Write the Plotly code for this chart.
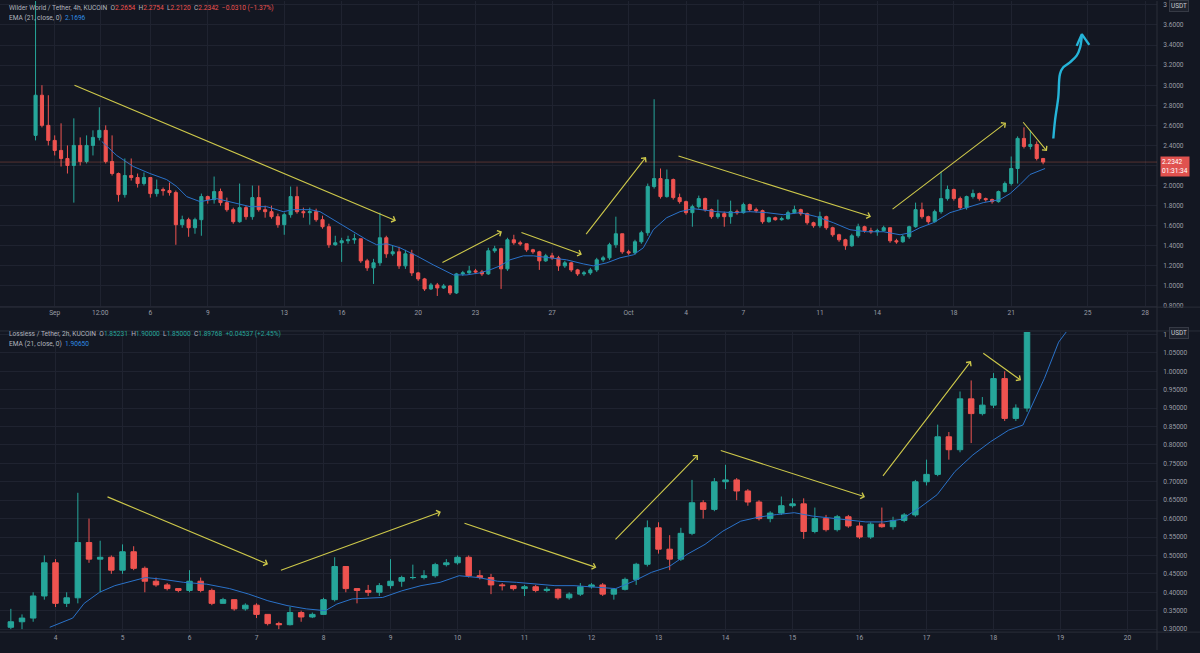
import pandas as pd
import plotly.graph_objects as go

# ===================== DATA =====================
# --- Top pane: Wilder World / Tether (KUCOIN), candles every 8h ---
top_start = "2021-08-31 00:00"
top_open0 = 2.50
top_close = [2.90, 2.60, 2.45, 2.35, 2.27, 2.20, 2.40, 2.24, 2.40, 2.48,
             2.55, 2.24, 2.12, 1.91, 2.10, 2.08, 2.02, 2.08, 1.92, 1.96,
             1.95, 1.93, 1.61, 1.66, 1.58, 1.66, 1.89, 1.86, 1.94, 1.83,
             1.76, 1.64, 1.78, 1.69, 1.88, 1.76, 1.74, 1.69, 1.61, 1.71,
             1.89, 1.74, 1.73, 1.74, 1.66, 1.59, 1.41, 1.43, 1.45, 1.46,
             1.47, 1.25, 1.18, 1.23, 1.48, 1.32, 1.34, 1.20, 1.32, 1.13,
             1.07, 0.97, 1.01, 0.98, 1.00, 0.93, 1.12, 1.13, 1.15, 1.14,
             1.12, 1.35, 1.37, 1.17, 1.46, 1.43, 1.42, 1.36, 1.34, 1.25,
             1.30, 1.28, 1.20, 1.23, 1.16, 1.12, 1.13, 1.16, 1.26, 1.28,
             1.41, 1.52, 1.34, 1.33, 1.44, 1.53, 1.99, 2.07, 1.89, 2.06,
             1.88, 1.84, 1.73, 1.79, 1.87, 1.76, 1.69, 1.72, 1.69, 1.74,
             1.73, 1.81, 1.76, 1.75, 1.64, 1.68, 1.66, 1.67, 1.73, 1.76,
             1.72, 1.63, 1.60, 1.69, 1.58, 1.51, 1.46, 1.40, 1.50, 1.59,
             1.55, 1.54, 1.55, 1.58, 1.45, 1.44, 1.49, 1.59, 1.76, 1.69,
             1.64, 1.74, 1.87, 1.96, 1.87, 1.78, 1.89, 1.92, 1.87, 1.86,
             1.84, 1.94, 2.02, 2.17, 2.47, 2.39, 2.41, 2.27, 2.2342]
top_high = [3.95, 3.00, 2.90, 2.50, 2.62, 2.40, 2.67, 2.48, 2.50, 2.55,
            2.78, 2.60, 2.50, 2.13, 2.27, 2.27, 2.12, 2.13, 2.08, 2.06,
            1.98, 2.03, 1.95, 1.70, 1.68, 1.68, 1.92, 1.90, 2.09, 1.97,
            1.88, 1.78, 2.02, 1.80, 2.00, 2.00, 1.80, 1.80, 1.72, 1.73,
            1.99, 1.99, 1.78, 1.78, 1.77, 1.70, 1.62, 1.50, 1.48, 1.50,
            1.52, 1.47, 1.27, 1.27, 1.73, 1.50, 1.40, 1.39, 1.36, 1.36,
            1.14, 1.08, 1.03, 1.03, 1.02, 1.01, 1.13, 1.15, 1.20, 1.17,
            1.16, 1.38, 1.40, 1.38, 1.48, 1.51, 1.45, 1.42, 1.37, 1.35,
            1.32, 1.33, 1.30, 1.25, 1.24, 1.17, 1.15, 1.18, 1.28, 1.30,
            1.43, 1.69, 1.52, 1.36, 1.46, 1.55, 2.02, 2.86, 2.17, 2.16,
            2.07, 1.92, 1.85, 1.81, 1.90, 1.88, 1.77, 1.86, 1.74, 1.85,
            1.76, 1.83, 1.82, 1.78, 1.76, 1.69, 1.69, 1.69, 1.75, 1.80,
            1.77, 1.73, 1.64, 1.74, 1.70, 1.59, 1.52, 1.47, 1.52, 1.62,
            1.60, 1.58, 1.57, 1.60, 1.58, 1.47, 1.51, 1.60, 1.83, 1.83,
            1.70, 1.76, 2.14, 2.00, 1.97, 1.89, 1.90, 1.96, 1.93, 1.88,
            1.87, 1.95, 2.04, 2.29, 2.49, 2.58, 2.55, 2.44, 2.2754]
top_low = [2.45, 2.58, 2.40, 2.30, 2.19, 2.12, 1.83, 2.20, 2.22, 2.30,
           2.45, 2.22, 2.10, 1.84, 1.88, 2.05, 1.98, 2.00, 1.88, 1.89,
           1.90, 1.90, 1.41, 1.58, 1.49, 1.52, 1.50, 1.82, 1.82, 1.80,
           1.74, 1.62, 1.63, 1.66, 1.66, 1.74, 1.68, 1.67, 1.58, 1.51,
           1.68, 1.72, 1.68, 1.61, 1.64, 1.57, 1.38, 1.40, 1.24, 1.42,
           1.42, 1.23, 1.15, 1.02, 1.20, 1.28, 1.30, 1.17, 1.17, 1.10,
           1.05, 0.95, 0.96, 0.90, 0.97, 0.91, 0.92, 1.10, 1.12, 1.12,
           1.10, 1.11, 1.33, 0.97, 1.15, 1.41, 1.40, 1.34, 1.32, 1.16,
           1.24, 1.26, 1.15, 1.18, 1.14, 1.10, 1.10, 1.11, 1.14, 1.24,
           1.26, 1.38, 1.32, 1.31, 1.31, 1.42, 1.50, 1.97, 1.87, 1.88,
           1.86, 1.82, 1.71, 1.59, 1.77, 1.74, 1.67, 1.67, 1.59, 1.62,
           1.71, 1.72, 1.74, 1.73, 1.62, 1.63, 1.65, 1.65, 1.66, 1.72,
           1.70, 1.61, 1.58, 1.58, 1.56, 1.49, 1.44, 1.36, 1.39, 1.48,
           1.53, 1.52, 1.50, 1.54, 1.43, 1.42, 1.43, 1.47, 1.58, 1.67,
           1.62, 1.63, 1.72, 1.85, 1.85, 1.76, 1.76, 1.87, 1.85, 1.84,
           1.82, 1.83, 1.93, 2.00, 2.02, 2.37, 2.36, 2.25, 2.2120]

# EMA(21) of the top pane (days after 2021-09-01)
top_ema_day = [2.46, 3.24, 4.11, 4.98, 5.85, 6.38, 6.90, 7.60, 8.47, 9.34,
               10.21, 11.08, 11.95, 12.47, 13.35, 13.87, 14.56, 15.44, 16.31, 16.83,
               17.36, 18.05, 18.92, 19.79, 20.84, 21.54, 22.23, 22.75, 23.28, 23.80,
               24.50, 25.02, 25.89, 26.76, 27.63, 28.15, 28.86, 29.55, 30.25, 30.77,
               31.29, 31.99, 32.69, 33.38, 34.61, 35.47, 36.35, 37.22, 38.09, 38.96,
               39.83, 40.70, 41.57, 42.45, 43.32, 44.19, 44.71, 45.23, 45.93, 46.80,
               47.67, 48.54, 49.41, 49.94, 50.46, 50.98, 51.77]
top_ema_val = [2.44, 2.30, 2.19, 2.12, 2.06, 1.99, 1.89, 1.84, 1.87, 1.83,
               1.79, 1.79, 1.74, 1.76, 1.76, 1.74, 1.66, 1.56, 1.46, 1.41,
               1.42, 1.38, 1.30, 1.21, 1.11, 1.11, 1.13, 1.16, 1.20, 1.26,
               1.30, 1.30, 1.28, 1.26, 1.22, 1.20, 1.23, 1.28, 1.31, 1.38,
               1.56, 1.68, 1.74, 1.77, 1.74, 1.73, 1.74, 1.73, 1.71, 1.73,
               1.69, 1.63, 1.56, 1.54, 1.54, 1.51, 1.53, 1.58, 1.63, 1.73,
               1.78, 1.83, 1.86, 1.92, 2.01, 2.11, 2.17]

top_tick_day = [0, 2.375, 5, 8, 12, 15, 19, 22, 26, 30, 33, 36, 40, 43, 47, 50, 54, 57]
top_tick_text = ["Sep", "12:00", "6", "9", "13", "16", "20", "23", "27",
                 "Oct", "4", "7", "11", "14", "18", "21", "25", "28"]
top_price_ticks = [0.8, 1.0, 1.2, 1.4, 1.6, 1.8, 2.0, 2.2, 2.4, 2.6, 2.8, 3.0, 3.2, 3.4, 3.6, 3.8]
# 2.2 is hidden behind the last-price label, 3.8 behind the "USDT" tag
top_price_text = ["0.8000", "1.0000", "1.2000", "1.4000", "1.6000", "1.8000", "2.0000", "",
                  "2.4000", "2.6000", "2.8000", "3.0000", "3.2000", "3.4000", "3.6000", "3"]
top_last = 2.2342

# --- Bottom pane: Lossless / Tether (KUCOIN), candles every 4h ---
bot_start = "2021-10-03 08:00"
bot_open0 = 0.305
bot_close = [0.320, 0.330, 0.390, 0.480, 0.370, 0.385, 0.535, 0.490, 0.495, 0.460,
             0.510, 0.465, 0.430, 0.420, 0.410, 0.405, 0.430, 0.405, 0.370, 0.380,
             0.355, 0.365, 0.340, 0.315, 0.312, 0.345, 0.333, 0.340, 0.380, 0.470,
             0.410, 0.405, 0.400, 0.418, 0.430, 0.440, 0.440, 0.445, 0.475, 0.480,
             0.495, 0.445, 0.440, 0.420, 0.418, 0.410, 0.415, 0.405, 0.408, 0.385,
             0.395, 0.415, 0.420, 0.395, 0.408, 0.435, 0.476, 0.575, 0.517, 0.490,
             0.560, 0.643, 0.625, 0.700, 0.705, 0.675, 0.645, 0.600, 0.615, 0.635,
             0.640, 0.565, 0.600, 0.570, 0.605, 0.580, 0.550, 0.585, 0.578, 0.595,
             0.610, 0.700, 0.720, 0.822, 0.787, 0.925, 0.885, 0.908, 0.980, 0.872,
             0.900, 1.350]
bot_high = [0.355, 0.340, 0.400, 0.500, 0.490, 0.400, 0.670, 0.600, 0.540, 0.500,
            0.530, 0.525, 0.470, 0.440, 0.425, 0.410, 0.460, 0.440, 0.410, 0.385,
            0.380, 0.370, 0.370, 0.340, 0.320, 0.360, 0.350, 0.345, 0.385, 0.495,
            0.470, 0.410, 0.420, 0.425, 0.490, 0.445, 0.475, 0.460, 0.480, 0.490,
            0.500, 0.500, 0.460, 0.450, 0.425, 0.420, 0.420, 0.420, 0.415, 0.410,
            0.400, 0.425, 0.425, 0.425, 0.410, 0.440, 0.480, 0.595, 0.590, 0.555,
            0.575, 0.705, 0.650, 0.710, 0.746, 0.710, 0.680, 0.650, 0.620, 0.660,
            0.655, 0.655, 0.630, 0.610, 0.610, 0.610, 0.590, 0.590, 0.630, 0.605,
            0.615, 0.705, 0.760, 0.855, 0.835, 0.945, 0.975, 0.930, 0.995, 1.000,
            0.910, 1.450]
bot_low = [0.300, 0.300, 0.320, 0.380, 0.360, 0.360, 0.370, 0.480, 0.400, 0.450,
           0.450, 0.460, 0.400, 0.415, 0.405, 0.400, 0.400, 0.400, 0.365, 0.370,
           0.350, 0.350, 0.330, 0.310, 0.300, 0.310, 0.320, 0.330, 0.340, 0.375,
           0.400, 0.370, 0.390, 0.390, 0.410, 0.415, 0.435, 0.435, 0.440, 0.470,
           0.475, 0.440, 0.435, 0.395, 0.405, 0.405, 0.390, 0.400, 0.400, 0.380,
           0.380, 0.390, 0.410, 0.390, 0.380, 0.405, 0.420, 0.470, 0.505, 0.460,
           0.485, 0.555, 0.600, 0.620, 0.680, 0.650, 0.635, 0.595, 0.590, 0.610,
           0.630, 0.545, 0.560, 0.565, 0.565, 0.575, 0.545, 0.545, 0.575, 0.570,
           0.590, 0.605, 0.690, 0.715, 0.760, 0.780, 0.805, 0.880, 0.900, 0.865,
           0.865, 0.890]

# EMA(21) of the bottom pane (day of October, value)
bot_ema_day = [3.914, 4.257, 4.428, 4.657, 4.885, 5.114, 5.342, 5.571, 5.913, 6.257,
               6.599, 6.885, 7.170, 7.455, 7.742, 8.027, 8.199, 8.427, 8.884, 9.169,
               9.455, 9.740, 10.025, 10.312, 10.597, 10.882, 11.169, 11.454, 11.739, 12.361,
               12.628, 12.894, 13.161, 13.427, 13.694, 13.961, 14.227, 14.494, 14.760, 15.027,
               15.293, 15.560, 15.827, 16.093, 16.360, 16.626, 16.893, 17.159, 17.425, 17.693,
               17.958, 18.225, 18.439, 18.598, 18.758, 18.972, 19.173]
bot_ema_val = [0.305, 0.330, 0.370, 0.400, 0.418, 0.430, 0.440, 0.436, 0.427, 0.422,
               0.410, 0.395, 0.377, 0.364, 0.355, 0.350, 0.368, 0.382, 0.386, 0.404,
               0.418, 0.427, 0.445, 0.440, 0.430, 0.427, 0.422, 0.418, 0.418, 0.410,
               0.430, 0.454, 0.470, 0.503, 0.530, 0.566, 0.593, 0.604, 0.611, 0.616,
               0.607, 0.602, 0.598, 0.591, 0.591, 0.598, 0.629, 0.665, 0.728, 0.773,
               0.809, 0.840, 0.854, 0.917, 0.980, 1.079, 1.128]

bot_tick_day = [4, 5, 6, 7, 8, 9, 10, 11, 12, 13, 14, 15, 16, 17, 18, 19, 20]
bot_tick_text = ["4", "5", "6", "7", "8", "9", "10", "11", "12", "13", "14",
                 "15", "16", "17", "18", "19", "20"]
bot_price_ticks = [0.30, 0.35, 0.40, 0.45, 0.50, 0.55, 0.60, 0.65, 0.70, 0.75,
                   0.80, 0.85, 0.90, 0.95, 1.00, 1.05, 1.10]
# 1.10 is hidden behind the "USDT" tag
bot_price_text = ["0.30000", "0.35000", "0.40000", "0.45000", "0.50000", "0.55000",
                  "0.60000", "0.65000", "0.70000", "0.75000", "0.80000", "0.85000",
                  "0.90000", "0.95000", "1.00000", "1.05000", "1"]

# ===================== DRAWINGS (hand-drawn annotations) =====================
# (tail day, tail price, head day, head price)
top_arrows = [(0.957, 3.006, 17.84, 1.650), (20.19, 1.225, 23.38, 1.542),
              (24.32, 1.537, 27.56, 1.314), (27.72, 1.502, 30.91, 2.284),
              (32.53, 2.299, 42.67, 1.690), (43.72, 1.754, 49.73, 2.626),
              (50.56, 2.646, 51.87, 2.344)]
bot_arrows = [(4.754, 0.6607, 7.172, 0.4762), (7.342, 0.4583, 9.752, 0.6183),
              (10.082, 0.5886, 12.072, 0.4673), (12.336, 0.5393, 13.588, 0.7729),
              (13.907, 0.7864, 16.082, 0.6588), (16.333, 0.7119, 17.664, 1.0275),
              (17.825, 1.0518, 18.410, 0.9752)]
cyan_day = [52.20, 52.29, 52.46, 52.55, 52.72, 53.07, 53.42, 53.60, 53.69]
cyan_price = [2.469, 2.650, 2.881, 3.113, 3.178, 3.228, 3.294, 3.376, 3.492]
cyan_head_day = [53.42, 53.69, 54.08]
cyan_head_price = [3.392, 3.509, 3.402]

# ===================== STYLE =====================
BG = "#131722"
GRID = "#1f2330"
SEP = "#2a2e39"
TXT = "#9a9da6"
HDR = "#b2b5be"
UP = "#26a69a"
DN = "#ef5350"
EMA_C = "#2a72c9"
ARROW_C = "#cdc84a"
CYAN = "#25b4d8"
FONT = "Roboto"

W, H = 1200, 653
PLOT_R = 1157 / W
TOP_DOM = [1 - 308 / H, 1.0]
BOT_DOM = [1 - 635 / H, 1 - 333 / H]

top_base = pd.Timestamp("2021-09-01")
bot_base = pd.Timestamp("2021-09-30")


def tdate(d):
    return top_base + pd.to_timedelta(d, unit="D")


def bdate(d):
    return bot_base + pd.to_timedelta(d, unit="D")


top_x = pd.date_range(top_start, periods=len(top_close), freq="8h")
top_open = [top_open0] + top_close[:-1]
bot_x = pd.date_range(bot_start, periods=len(bot_close), freq="4h")
bot_open = [bot_open0] + bot_close[:-1]

candle_style = dict(
    increasing=dict(line=dict(color=UP, width=1), fillcolor=UP),
    decreasing=dict(line=dict(color=DN, width=1), fillcolor=DN),
    whiskerwidth=0, showlegend=False, hoverinfo="skip",
)

fig = go.Figure()
fig.add_trace(go.Candlestick(x=top_x, open=top_open, high=top_high, low=top_low,
                             close=top_close, xaxis="x", yaxis="y", **candle_style))
fig.add_trace(go.Scatter(x=[tdate(d) for d in top_ema_day], y=top_ema_val, mode="lines",
                         line=dict(color=EMA_C, width=1), xaxis="x", yaxis="y",
                         showlegend=False, hoverinfo="skip"))
fig.add_trace(go.Candlestick(x=bot_x, open=bot_open, high=bot_high, low=bot_low,
                             close=bot_close, xaxis="x2", yaxis="y2", **candle_style))
fig.add_trace(go.Scatter(x=[bdate(d) for d in bot_ema_day], y=bot_ema_val, mode="lines",
                         line=dict(color=EMA_C, width=1), xaxis="x2", yaxis="y2",
                         showlegend=False, hoverinfo="skip"))
# cyan hand-drawn arrow
fig.add_trace(go.Scatter(x=[tdate(d) for d in cyan_day], y=cyan_price, mode="lines",
                         line=dict(color=CYAN, width=2.4, shape="spline"),
                         xaxis="x", yaxis="y", showlegend=False, hoverinfo="skip"))
fig.add_trace(go.Scatter(x=[tdate(d) for d in cyan_head_day], y=cyan_head_price, mode="lines",
                         line=dict(color=CYAN, width=2.4), xaxis="x", yaxis="y",
                         showlegend=False, hoverinfo="skip"))

tickfont = dict(family=FONT, size=6.6, color=TXT)
common_x = dict(type="date", showgrid=True, gridcolor=GRID, gridwidth=1, zeroline=False,
                tickfont=tickfont, ticks="", showline=False, rangeslider=dict(visible=False),
                fixedrange=True)
common_y = dict(side="right", showgrid=True, gridcolor=GRID, gridwidth=1, zeroline=False,
                tickfont=tickfont, ticks="outside", ticklen=4, tickcolor=BG,
                showline=False, fixedrange=True)

fig.update_layout(
    width=W, height=H, margin=dict(l=0, r=0, t=0, b=0),
    paper_bgcolor=BG, plot_bgcolor=BG, hovermode=False, showlegend=False,
    xaxis=dict(domain=[0, PLOT_R], anchor="y",
               range=[tdate(-2.859), tdate(57.62)],
               tickvals=[tdate(d) for d in top_tick_day], ticktext=top_tick_text, **common_x),
    yaxis=dict(domain=TOP_DOM, anchor="x", range=[0.789, 3.839],
               tickvals=top_price_ticks, ticktext=top_price_text, **common_y),
    xaxis2=dict(domain=[0, PLOT_R], anchor="y2",
                range=[bdate(3.1716), bdate(20.44)],
                tickvals=[bdate(d) for d in bot_tick_day], ticktext=bot_tick_text, **common_x),
    yaxis2=dict(domain=BOT_DOM, anchor="x2", range=[0.2919, 1.1066],
                tickvals=bot_price_ticks, ticktext=bot_price_text, **common_y),
)

shapes = []
# pane separators
for yy in [308, 332, 635]:
    shapes.append(dict(type="line", xref="paper", yref="paper", x0=0, x1=1,
                       y0=1 - yy / H, y1=1 - yy / H, line=dict(color=SEP, width=1)))
shapes.append(dict(type="line", xref="paper", yref="paper", x0=PLOT_R, x1=PLOT_R,
                   y0=0, y1=1, line=dict(color=SEP, width=1)))
# last price line (top)
shapes.append(dict(type="line", xref="x domain", yref="y", x0=0, x1=1,
                   y0=top_last, y1=top_last, line=dict(color="rgba(225,110,80,0.32)", width=1)))
fig.update_layout(shapes=shapes)

ann = []
for (d0, p0, d1, p1) in top_arrows:
    ann.append(dict(x=tdate(d1), y=p1, ax=tdate(d0), ay=p0, xref="x", yref="y",
                    axref="x", ayref="y", text="", showarrow=True, arrowhead=4,
                    arrowsize=1.1, arrowwidth=1.1, arrowcolor=ARROW_C, standoff=0))
for (d0, p0, d1, p1) in bot_arrows:
    ann.append(dict(x=bdate(d1), y=p1, ax=bdate(d0), ay=p0, xref="x2", yref="y2",
                    axref="x2", ayref="y2", text="", showarrow=True, arrowhead=4,
                    arrowsize=1.1, arrowwidth=1.1, arrowcolor=ARROW_C, standoff=0))

R = "#ef5350"
G = "#26a69a"
B = "#2f8de4"


def col(t, c):
    return f"<span style='color:{c}'>{t}</span>"


hdr_font = dict(family=FONT, size=6.6, color=HDR)
top_h1 = ("Wilder World / Tether, 4h, KUCOIN  O" + col("2.2654", R) + "  H" + col("2.2754", R)
          + "  L" + col("2.2120", R) + "  C" + col("2.2342", R) + "  " + col("\u22120.0310 (\u22121.37%)", R))
top_h2 = "EMA (21, close, 0)  " + col("2.1696", B)
bot_h1 = ("Lossless / Tether, 2h, KUCOIN  O" + col("1.85231", G) + "  H" + col("1.90000", G)
          + "  L" + col("1.85000", G) + "  C" + col("1.89768", G) + "  " + col("+0.04537 (+2.45%)", G))
bot_h2 = "EMA (21, close, 0)  " + col("1.90650", B)
for txt, yy in [(top_h1, 7.5), (top_h2, 17.5), (bot_h1, 335.5), (bot_h2, 345.5)]:
    ann.append(dict(x=7 / W, y=1 - yy / H, xref="paper", yref="paper", text=txt,
                    showarrow=False, xanchor="left", yanchor="middle", font=hdr_font))

# last-price label on the top price scale
ann.append(dict(x=1160 / W, y=top_last, xref="paper", yref="y", yshift=6,
                text="2.2342<br>01:31:34", showarrow=False, xanchor="left", yanchor="top",
                align="left", bgcolor="#e0524f", borderpad=1,
                font=dict(family=FONT, size=6.6, color="#ffffff")))
# currency labels
for yy in [5.0, 334.5]:
    ann.append(dict(x=1169 / W, y=1 - yy / H, xref="paper", yref="paper", text="USDT",
                    showarrow=False, xanchor="left", yanchor="middle", bgcolor="#1e222d",
                    bordercolor="#363a45", borderwidth=1, borderpad=1,
                    font=dict(family=FONT, size=6.4, color="#c8cad0")))
fig.update_layout(annotations=ann)

fig.write_html("out.html")
